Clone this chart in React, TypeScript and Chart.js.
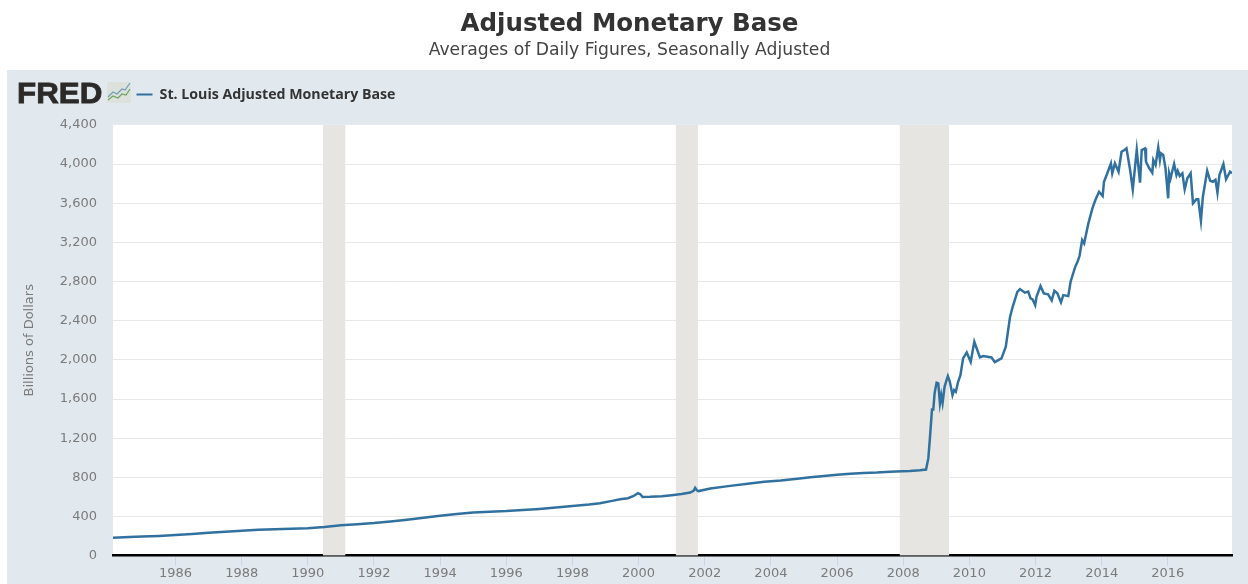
import React, { useEffect, useRef } from "react";
import { Chart, registerables } from "chart.js";

Chart.register(...registerables);

const titleText = "Adjusted Monetary Base";
const subtitleText = "Averages of Daily Figures, Seasonally Adjusted";
const seriesName = "St. Louis Adjusted Monetary Base";
const yAxisTitle = "Billions of Dollars";
const logoText = "FRED";

const years = [
  1984.11, 1984.6, 1985.0, 1985.5, 1986.0, 1986.5, 1987.0, 1987.5, 1988.0, 1988.5, 1989.0, 1989.5, 1990.0, 1990.5,
  1991.0, 1991.5, 1992.0, 1992.5, 1993.0, 1993.5, 1994.0, 1994.5, 1995.0, 1995.5, 1996.0, 1996.5, 1997.0, 1997.5,
  1998.0, 1998.5, 1998.83, 1999.2, 1999.44, 1999.68, 1999.85, 1999.98, 2000.05, 2000.12, 2000.35, 2000.7, 2001.0,
  2001.3, 2001.56, 2001.66, 2001.71, 2001.76, 2001.81, 2002.17, 2002.77, 2003.3, 2003.8, 2004.3, 2004.8, 2005.2,
  2005.6, 2006.0, 2006.4, 2006.8, 2007.2, 2007.6, 2007.97, 2008.2, 2008.5, 2008.69, 2008.76, 2008.81, 2008.87,
  2008.91, 2008.95, 2009.01, 2009.06, 2009.11, 2009.15, 2009.19, 2009.25, 2009.31, 2009.35, 2009.41, 2009.49,
  2009.54, 2009.59, 2009.66, 2009.73, 2009.81, 2009.92, 2010.04, 2010.15, 2010.32, 2010.42, 2010.67, 2010.77,
  2010.97, 2011.1, 2011.23, 2011.31, 2011.45, 2011.53, 2011.68, 2011.78, 2011.85, 2011.91, 2011.99, 2012.03, 2012.15,
  2012.25, 2012.38, 2012.49, 2012.57, 2012.66, 2012.77, 2012.84, 2012.99, 2013.06, 2013.2, 2013.27, 2013.33, 2013.41,
  2013.47, 2013.6, 2013.72, 2013.81, 2013.92, 2014.03, 2014.07, 2014.15, 2014.28, 2014.32, 2014.4, 2014.51, 2014.6,
  2014.69, 2014.75, 2014.86, 2014.94, 2015.06, 2015.16, 2015.21, 2015.31, 2015.34, 2015.44, 2015.53, 2015.56, 2015.63,
  2015.71, 2015.76, 2015.79, 2015.86, 2015.93, 2016.01, 2016.04, 2016.08, 2016.13, 2016.19, 2016.26, 2016.3,
  2016.36, 2016.44, 2016.51, 2016.59, 2016.69, 2016.76, 2016.86, 2016.92, 2017.0, 2017.06, 2017.11, 2017.19,
  2017.28, 2017.36, 2017.44, 2017.5, 2017.56, 2017.68, 2017.76, 2017.88, 2017.94,
];

const baseValues = [
  184, 190, 195, 202, 212, 222, 234, 245, 254, 264, 270, 275, 280, 292, 310, 322, 334, 350, 368, 387, 407, 426, 440,
  450, 456, 466, 478, 492, 507, 522, 535, 560, 577, 587, 610, 638, 628, 600, 602, 608, 618, 630, 645, 662, 692, 668,
  660, 686, 713, 735, 755, 768, 785, 800, 815, 826, 838, 845, 850, 858, 862, 864, 872, 880, 996, 1214, 1494, 1494,
  1663, 1766, 1760, 1555, 1640, 1561, 1725, 1793, 1834, 1776, 1640, 1691, 1674, 1776, 1844, 2015, 2076, 1980, 2184,
  2025, 2038, 2025, 1977, 2015, 2133, 2440, 2542, 2695, 2723, 2686, 2697, 2628, 2618, 2558, 2644, 2753, 2679, 2669,
  2607, 2705, 2679, 2587, 2661, 2651, 2798, 2950, 3002, 3060, 3223, 3190, 3397, 3547, 3632, 3717, 3673, 3819, 3888,
  4007, 3905, 4007, 3921, 4125, 4143, 4160, 3939, 3741, 4143, 3809, 4143, 4160, 4023, 3956, 3911, 4041, 3990, 4170,
  4041, 4109, 4092, 3956, 3650, 3905, 3850, 3921, 4000, 3888, 3930, 3878, 3905, 3741, 3854, 3905, 3598, 3639, 3639,
  3421, 3666, 3768, 3931, 3829, 3819, 3840, 3707, 3888, 4000, 3844, 3921, 3905,
];

const recessionStarts = [1990.45, 2001.12, 2007.89];
const recessionEnds = [1991.14, 2001.8, 2009.39];

const tickYears = [1986, 1988, 1990, 1992, 1994, 1996, 1998, 2000, 2002, 2004, 2006, 2008, 2010, 2012, 2014, 2016];
const yTickValues = [0, 400, 800, 1200, 1600, 2000, 2400, 2800, 3200, 3600, 4000, 4400];

const xMin = 1984.11;
const xMax = 2017.94;
const yMax = 4400;

const lineColor = "#31719f";
const panelColor = "#e1e8ee";
const bandColor = "#e6e5e1";
const gridColor = "#e8e8e8";
const labelColor = "#7b7b7b";

const framePlugin = {
  id: "frame",
  beforeDraw(chart: any) {
    const { ctx, chartArea: a, width, height } = chart;
    ctx.save();
    ctx.fillStyle = "#ffffff";
    ctx.fillRect(0, 0, width, height);
    ctx.fillStyle = panelColor;
    ctx.fillRect(7, 70, width - 7, height - 70);
    ctx.fillStyle = "#ffffff";
    ctx.fillRect(a.left, a.top, a.right - a.left, a.bottom - a.top);

    // FRED logo
    ctx.save();
    ctx.fillStyle = "#2b2a29";
    ctx.strokeStyle = "#2b2a29";
    ctx.lineWidth = 0.8;
    ctx.font = "bold 29px 'Liberation Sans'";
    ctx.textBaseline = "alphabetic";
    ctx.textAlign = "left";
    ctx.translate(17, 103);
    ctx.scale(1.08, 1);
    ctx.fillText(logoText, 0, 0);
    ctx.strokeText(logoText, 0, 0);
    ctx.restore();

    ctx.fillStyle = "#dde1dc";
    ctx.beginPath();
    ctx.roundRect(107, 82, 24, 21, 2);
    ctx.fill();
    ctx.lineWidth = 1.2;
    ctx.strokeStyle = "#6f9db5";
    ctx.beginPath();
    [[108, 97], [113, 92], [117, 94], [122, 89], [125, 90], [130, 83]].forEach(([x, y], i) =>
      i ? ctx.lineTo(x, y) : ctx.moveTo(x, y));
    ctx.stroke();
    ctx.strokeStyle = "#6fa35c";
    ctx.beginPath();
    [[108, 100], [113, 96], [118, 98], [122, 94], [126, 95], [130, 89]].forEach(([x, y], i) =>
      i ? ctx.lineTo(x, y) : ctx.moveTo(x, y));
    ctx.stroke();
    ctx.restore();

    // place the legend beside the logo
    if (chart.legend) {
      chart.legend.left = 131.5;
      chart.legend.top = 82.5;
    }
  },
};

export default function App() {
  const ref = useRef<HTMLCanvasElement>(null);
  useEffect(() => {
    if (!ref.current) return;
    const bands = recessionStarts.map((s, i) => ({
      label: "Recession " + (i + 1),
      data: [
        { x: s, y: yMax },
        { x: recessionEnds[i], y: yMax },
      ],
      borderWidth: 0,
      pointRadius: 0,
      backgroundColor: bandColor,
      fill: "origin",
    }));
    const chart = new Chart(ref.current, {
      type: "line",
      data: {
        datasets: [
          {
            label: seriesName,
            data: years.map((x, i) => ({ x, y: baseValues[i] })),
            borderColor: lineColor,
            backgroundColor: lineColor,
            borderWidth: 2.5,
            pointRadius: 0,
            tension: 0,
            fill: false,
          },
          ...bands,
        ],
      } as any,
      options: {
        responsive: false,
        animation: false,
        devicePixelRatio: 1,
        layout: { padding: { left: 27, right: 16, top: 0, bottom: 0 } },
        plugins: {
          title: {
            display: true,
            text: titleText,
            color: "#333333",
            font: { family: "'DejaVu Sans'", size: 24.5, weight: "bold", lineHeight: 1.2 },
            padding: { top: 10, bottom: 0 },
          },
          subtitle: {
            display: true,
            text: subtitleText,
            color: "#444444",
            font: { family: "'DejaVu Sans'", size: 17.2, weight: "normal", lineHeight: 1.2 },
            padding: { top: 1, bottom: 34.6 },
          },
          legend: {
            display: true,
            align: "start",
            labels: {
              generateLabels: (chart: any) =>
                Chart.defaults.plugins.legend.labels
                  .generateLabels(chart)
                  .filter((item: any) => item.datasetIndex === 0)
                  .map((item: any) => ({ ...item, lineWidth: 0 })),
              boxWidth: 16,
              boxHeight: 2,
              padding: 5,
              color: "#333333",
              font: { family: "'Open Sans'", size: 14.2, weight: "bold" },
            },
          },
          tooltip: { enabled: false },
        },
        scales: {
          x: {
            type: "linear",
            min: xMin,
            max: xMax,
            afterBuildTicks: (s: any) => {
              s.ticks = tickYears.map((value) => ({ value }));
            },
            afterFit: (s: any) => {
              s.height = 28.3;
            },
            border: { display: true, color: "#000000", width: 2.5 },
            grid: { drawOnChartArea: false, drawTicks: true, tickLength: 10, tickColor: "#ccd6eb", tickWidth: 1 },
            ticks: {
              autoSkip: false,
              maxRotation: 0,
              padding: 0,
              color: labelColor,
              font: { family: "'DejaVu Sans'", size: 13 },
              callback: (v: any) => String(v),
            },
          },
          y: {
            type: "linear",
            min: 0,
            max: yMax,
            afterBuildTicks: (s: any) => {
              s.ticks = yTickValues.map((value) => ({ value }));
            },
            afterFit: (s: any) => {
              s.width = 86;
            },
            border: { display: false },
            grid: {
              drawTicks: false,
              color: (c: any) => (c.tick && c.tick.value === yMax ? "transparent" : gridColor),
            },
            ticks: {
              padding: 16,
              color: labelColor,
              font: { family: "'DejaVu Sans'", size: 13 },
              callback: (v: any) => Number(v).toLocaleString("en-US"),
            },
            title: {
              display: true,
              text: yAxisTitle,
              color: labelColor,
              font: { family: "'DejaVu Sans'", size: 13 },
              padding: { top: -5, bottom: 0 },
            },
          },
        },
      } as any,
      plugins: [framePlugin],
    });
    return () => chart.destroy();
  }, []);
  return (
    <canvas
      ref={ref}
      width={1248}
      height={584}
      style={{ position: "absolute", left: 0, top: 0, display: "block" }}
    />
  );
}
